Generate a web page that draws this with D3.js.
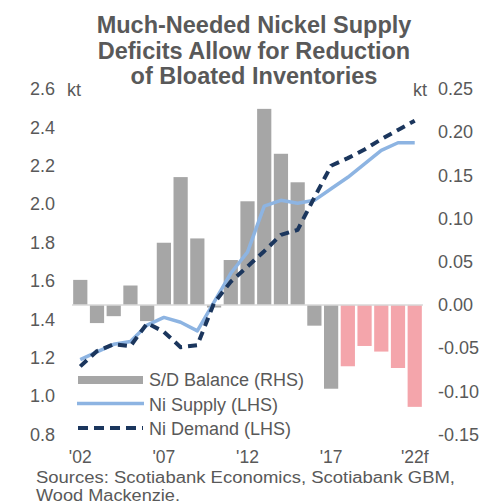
<!DOCTYPE html>
<html>
<head>
<meta charset="utf-8">
<script src="https://cdn.jsdelivr.net/npm/d3@7"></script>
<style>
  html, body { margin: 0; padding: 0; background: #fff; }
  svg { display: block; }
  text { font-family: "Liberation Sans", Arial, sans-serif; fill: #595959; }
</style>
</head>
<body>
<svg id="chart" width="482" height="504"></svg>
<script>
// Nickel market: annual supply/demand balance (RHS) and supply & demand levels (LHS)
const years = ["2002","2003","2004","2005","2006","2007","2008","2009","2010","2011",
               "2012","2013","2014","2015","2016","2017","2018","2019","2020","2021","2022"];
const forecastYears = ["2018","2019","2020","2021","2022"];
const balance = [0.029, -0.021, -0.013, 0.0225, -0.0187, 0.072, 0.148, 0.077, -0.003, 0.052,
                 0.120, 0.227, 0.175, 0.142, -0.024, -0.097, -0.071, -0.0475, -0.054, -0.073, -0.118];
const supply  = [1.19, 1.23, 1.27, 1.285, 1.37, 1.41, 1.385, 1.34, 1.49, 1.64,
                 1.75, 1.99, 2.02, 2.005, 2.02, 2.08, 2.14, 2.21, 2.28, 2.32, 2.32];
const demand  = [1.155, 1.235, 1.27, 1.26, 1.38, 1.335, 1.255, 1.265, 1.485, 1.596,
                 1.675, 1.755, 1.84, 1.866, 2.035, 2.2, 2.24, 2.285, 2.338, 2.387, 2.435];
const leftTicks  = [0.8, 1.0, 1.2, 1.4, 1.6, 1.8, 2.0, 2.2, 2.4, 2.6];
const rightTicks = [-0.15, -0.10, -0.05, 0.00, 0.05, 0.10, 0.15, 0.20, 0.25];
const xTickYears = ["2002","2007","2012","2017","2022"];
const xTickLabels = ["'02","'07","'12","'17","'22f"];
const titleLines = ["Much-Needed Nickel Supply", "Deficits Allow for Reduction", "of Bloated Inventories"];
const sourceLines = ["Sources: Scotiabank Economics, Scotiabank GBM,", "Wood Mackenzie."];
const legendItems = ["S/D Balance (RHS)", "Ni Supply (LHS)", "Ni Demand (LHS)"];

const svg = d3.select("#chart");
const plot = { left: 72, right: 423, top: 89, bottom: 434.5 };

const x = d3.scaleBand().domain(years).range([plot.left, plot.right]).paddingInner(0.15).paddingOuter(0.07);
const yL = d3.scaleLinear().domain([0.8, 2.6]).range([plot.bottom, plot.top]);
const yR = d3.scaleLinear().domain([-0.15, 0.25]).range([plot.bottom, plot.top]);

const grey = "#a6a6a6", pink = "#f4a5ab", supplyCol = "#8db4e2", demandCol = "#1b365d";

// Title
svg.append("g").selectAll("text").data(titleLines).join("text")
  .attr("x", 254).attr("y", (d, i) => 33 + i * 25.5)
  .attr("text-anchor", "middle")
  .style("font-size", "23.5px").style("font-weight", "bold")
  .text(d => d);

// Balance bars
const rows = years.map((yr, i) => ({ yr, v: balance[i], s: supply[i], d: demand[i] }));
svg.append("g").selectAll("rect").data(rows).join("rect")
  .attr("x", d => x(d.yr))
  .attr("width", x.bandwidth())
  .attr("y", d => yR(Math.max(0, d.v)))
  .attr("height", d => Math.abs(yR(d.v) - yR(0)))
  .attr("fill", d => forecastYears.includes(d.yr) ? pink : grey);

// Zero line of the balance axis
svg.append("line")
  .attr("x1", plot.left).attr("x2", plot.right)
  .attr("y1", yR(0)).attr("y2", yR(0))
  .attr("stroke", "#d9d9d9").attr("stroke-width", 1.5);

const cx = d => x(d.yr) + x.bandwidth() / 2;

// Supply line
svg.append("path").datum(rows)
  .attr("fill", "none").attr("stroke", supplyCol).attr("stroke-width", 3.5)
  .attr("stroke-linejoin", "round")
  .attr("d", d3.line().x(cx).y(d => yL(d.s)));

// Demand line (dashed)
svg.append("path").datum(rows)
  .attr("fill", "none").attr("stroke", demandCol).attr("stroke-width", 4)
  .attr("stroke-dasharray", "9,6").attr("stroke-linejoin", "round")
  .attr("d", d3.line().x(cx).y(d => yL(d.d)));

// Left axis
const axL = d3.axisLeft(yL).tickValues(leftTicks).tickFormat(d3.format(".1f")).tickSize(0).tickPadding(0);
const gL = svg.append("g").attr("transform", "translate(55,0)").call(axL);
gL.select(".domain").remove();
gL.selectAll("text").style("font-size", "18px").attr("fill", "#595959")
  .style("font-family", "'Liberation Sans', Arial, sans-serif");

// Right axis
const axR = d3.axisRight(yR).tickValues(rightTicks).tickFormat(d3.format(".2f")).tickSize(0).tickPadding(0);
const gR = svg.append("g").attr("transform", "translate(438,0)").call(axR);
gR.select(".domain").remove();
gR.selectAll("text").style("font-size", "18px").attr("fill", "#595959")
  .style("font-family", "'Liberation Sans', Arial, sans-serif")
  .text(d => d3.format(".2f")(d).replace("−", "-"));

// Unit labels
svg.append("text").attr("x", 67).attr("y", 95.5).style("font-size", "18px").text("kt");
svg.append("text").attr("x", 413).attr("y", 95.5).style("font-size", "18px").text("kt");

// X axis labels (placed on their baseline)
const axX = d3.axisBottom(x).tickValues(xTickYears)
  .tickFormat(d => xTickLabels[xTickYears.indexOf(d)]).tickSize(0).tickPadding(0);
const gX = svg.append("g").attr("transform", "translate(0,463)").call(axX);
gX.select(".domain").remove();
gX.selectAll("text").attr("dy", 0).style("font-size", "17.5px").attr("fill", "#595959")
  .style("font-family", "'Liberation Sans', Arial, sans-serif");

// Legend
const lg = svg.append("g");
lg.append("rect").attr("x", 78).attr("y", 376).attr("width", 65).attr("height", 8).attr("fill", grey);
lg.append("line").attr("x1", 77).attr("x2", 144).attr("y1", 403.5).attr("y2", 403.5)
  .attr("stroke", supplyCol).attr("stroke-width", 3.5);
lg.append("line").attr("x1", 78).attr("x2", 143).attr("y1", 428).attr("y2", 428)
  .attr("stroke", demandCol).attr("stroke-width", 4).attr("stroke-dasharray", "10,6");
lg.selectAll("text").data(legendItems).join("text")
  .attr("x", 149).attr("y", (d, i) => 386 + i * 24.5)
  .style("font-size", "18px").text(d => d);

// Sources (set slightly wide, as in the house style)
const sourceWidths = [419, 144];
svg.append("g").selectAll("text").data(sourceLines).join("text")
  .attr("x", 36).attr("y", (d, i) => 482.5 + i * 18)
  .attr("textLength", (d, i) => sourceWidths[i])
  .attr("lengthAdjust", "spacingAndGlyphs")
  .style("font-size", "16px").text(d => d);
</script>
</body>
</html>
